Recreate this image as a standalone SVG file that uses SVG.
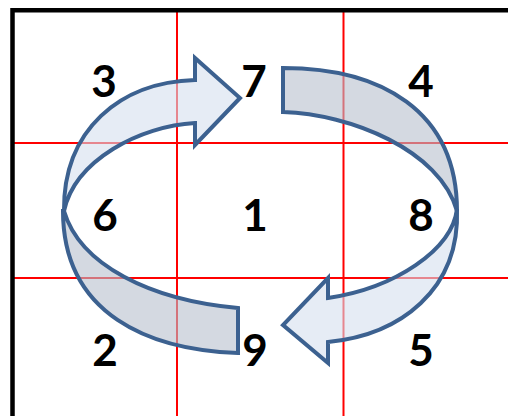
<svg xmlns="http://www.w3.org/2000/svg" width="508" height="416" viewBox="0 0 508 416">
  <style>
    .grid { stroke: #ff0000; stroke-width: 2; fill: none; }
    .frame { stroke: #000000; stroke-width: 4.5; fill: none; }
    .arrow { fill: #d5dfee; fill-opacity: 0.6; stroke: #3c6190; stroke-width: 4; stroke-linejoin: miter; }
    .band { fill: #b7c0cd; fill-opacity: 0.6; stroke: #3c6190; stroke-width: 4; stroke-linejoin: miter; }
    .num { font-family: Lato, "Open Sans", "Liberation Sans", sans-serif; font-weight: 700; font-size: 44px; fill: #000000; text-anchor: middle; }
  </style>
  <rect width="508" height="416" fill="#ffffff"/>
  <g id="grid">
    <line class="grid" x1="177" y1="12" x2="177" y2="416"/>
    <line class="grid" x1="343.5" y1="12" x2="343.5" y2="416"/>
    <line class="grid" x1="14" y1="143" x2="508" y2="143"/>
    <line class="grid" x1="14" y1="278" x2="508" y2="278"/>
  </g>
  <g id="frame">
    <polyline class="frame" points="12.5,416 12.5,10.3 508,10.3"/>
  </g>
  <g id="left-arrow">
    <path class="band" d="M64,211 C80,265 150,300 238,308 L238,353 C150,350 63,315 63,211 Z"/>
    <path class="arrow" d="M64,211 C63,130 120,82 195,80 L195,58 L240,98 L195,145 L195,123 C140,126 75,160 64,211 Z"/>
  </g>
  <g id="right-arrow">
    <path class="band" d="M283,68 C380,68 457,110 457,211 C440,150 350,114 283,112 Z"/>
    <path class="arrow" d="M457,209 C452,250 395,288 328,298 L328,278 L283,325 L328,363 L328,342 C400,335 460,290 457,209 Z"/>
  </g>
  <g id="labels">
    <text class="num" x="104" y="97">3</text>
    <text class="num" x="254" y="97">7</text>
    <text class="num" x="421" y="97">4</text>
    <text class="num" x="105" y="231">6</text>
    <text class="num" x="255" y="231">1</text>
    <text class="num" x="421" y="231">8</text>
    <text class="num" x="105" y="366">2</text>
    <text class="num" x="255" y="366">9</text>
    <text class="num" x="421" y="366">5</text>
  </g>
</svg>
